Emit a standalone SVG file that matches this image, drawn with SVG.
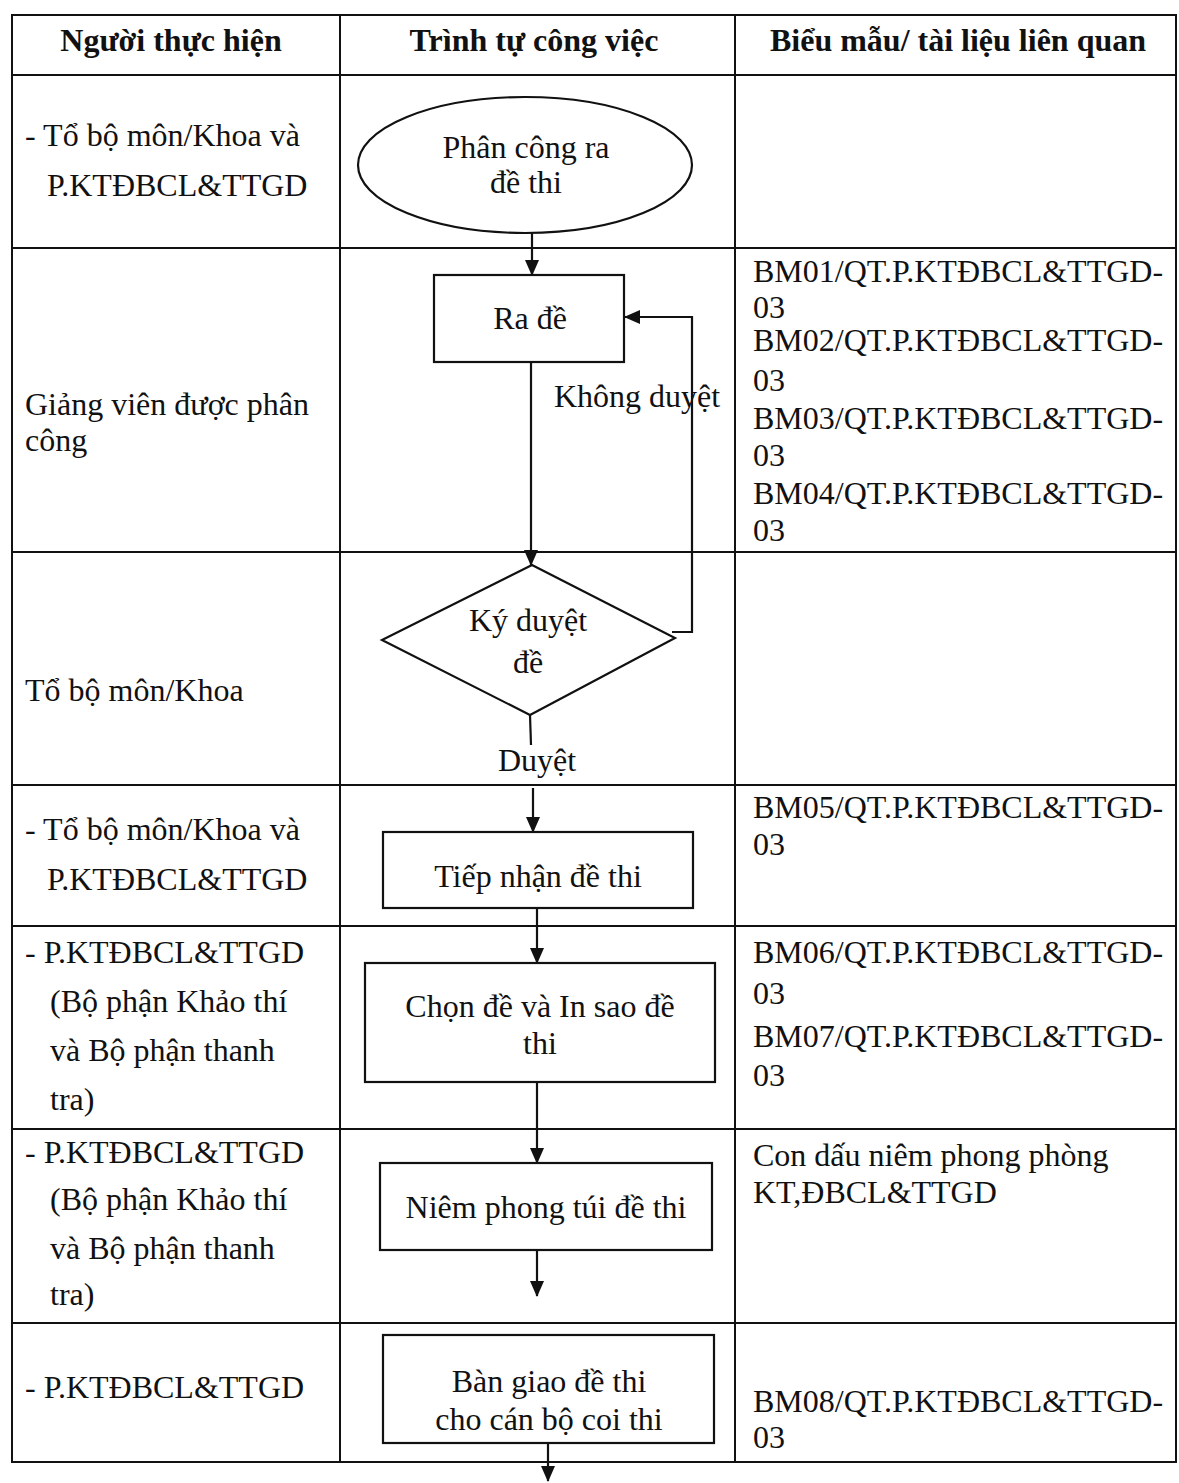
<svg xmlns="http://www.w3.org/2000/svg" width="1179" height="1483" viewBox="0 0 1179 1483">
<style>
  text { font-family: "Liberation Serif", "Times New Roman", serif; font-size: 32px; fill: #111; }
  .h { font-weight: bold; text-anchor: middle; }
  .c { text-anchor: middle; }
  .grid { stroke: #111; stroke-width: 2; fill: none; }
  .shape { stroke: #111; stroke-width: 2.2; fill: #fff; }
  .conn { stroke: #111; stroke-width: 2.2; fill: none; }
</style>
<defs>
  <marker id="arr" markerUnits="userSpaceOnUse" markerWidth="16" markerHeight="16" refX="15" refY="8" orient="auto">
    <path d="M0,1 L16,8 L0,15 Z" fill="#111"/>
  </marker>
</defs>
<rect width="1179" height="1483" fill="#fff"/>

<g id="table">
  <rect class="grid" x="12" y="15" width="1164" height="1447"/>
  <line class="grid" x1="340" y1="15" x2="340" y2="1462"/>
  <line class="grid" x1="735" y1="15" x2="735" y2="1462"/>
  <line class="grid" x1="12" y1="75" x2="1176" y2="75"/>
  <line class="grid" x1="12" y1="248" x2="1176" y2="248"/>
  <line class="grid" x1="12" y1="552" x2="1176" y2="552"/>
  <line class="grid" x1="12" y1="785" x2="1176" y2="785"/>
  <line class="grid" x1="12" y1="926" x2="1176" y2="926"/>
  <line class="grid" x1="12" y1="1129" x2="1176" y2="1129"/>
  <line class="grid" x1="12" y1="1323" x2="1176" y2="1323"/>
  <text class="h" x="171" y="51">Người thực hiện</text>
  <text class="h" x="534" y="51">Trình tự công việc</text>
  <text class="h" x="958" y="51">Biểu mẫu/ tài liệu liên quan</text>
</g>

<g id="actors">
  <text x="25" y="146">- Tổ bộ môn/Khoa và</text>
  <text x="47" y="196">P.KTĐBCL&amp;TTGD</text>
  <text x="25" y="415">Giảng viên được phân</text>
  <text x="25" y="451">công</text>
  <text x="25" y="701">Tổ bộ môn/Khoa</text>
  <text x="25" y="840">- Tổ bộ môn/Khoa và</text>
  <text x="47" y="890">P.KTĐBCL&amp;TTGD</text>
  <text x="25" y="963">- P.KTĐBCL&amp;TTGD</text>
  <text x="50" y="1012">(Bộ phận Khảo thí</text>
  <text x="50" y="1061">và Bộ phận thanh</text>
  <text x="50" y="1110">tra)</text>
  <text x="25" y="1163">- P.KTĐBCL&amp;TTGD</text>
  <text x="50" y="1210">(Bộ phận Khảo thí</text>
  <text x="50" y="1259">và Bộ phận thanh</text>
  <text x="50" y="1305">tra)</text>
  <text x="25" y="1398">- P.KTĐBCL&amp;TTGD</text>
</g>

<g id="forms">
  <text x="753" y="282">BM01/QT.P.KTĐBCL&amp;TTGD-</text>
  <text x="753" y="318">03</text>
  <text x="753" y="351">BM02/QT.P.KTĐBCL&amp;TTGD-</text>
  <text x="753" y="391">03</text>
  <text x="753" y="429">BM03/QT.P.KTĐBCL&amp;TTGD-</text>
  <text x="753" y="466">03</text>
  <text x="753" y="504">BM04/QT.P.KTĐBCL&amp;TTGD-</text>
  <text x="753" y="541">03</text>
  <text x="753" y="818">BM05/QT.P.KTĐBCL&amp;TTGD-</text>
  <text x="753" y="855">03</text>
  <text x="753" y="963">BM06/QT.P.KTĐBCL&amp;TTGD-</text>
  <text x="753" y="1004">03</text>
  <text x="753" y="1047">BM07/QT.P.KTĐBCL&amp;TTGD-</text>
  <text x="753" y="1086">03</text>
  <text x="753" y="1166">Con dấu niêm phong phòng</text>
  <text x="753" y="1203">KT,ĐBCL&amp;TTGD</text>
  <text x="753" y="1412">BM08/QT.P.KTĐBCL&amp;TTGD-</text>
  <text x="753" y="1448">03</text>
</g>

<g id="connectors">
  <line class="conn" x1="532" y1="233" x2="532" y2="275" marker-end="url(#arr)"/>
  <line class="conn" x1="531" y1="362" x2="531" y2="565" marker-end="url(#arr)"/>
  <polyline class="conn" points="672,632 692,632 692,317 625,317" marker-end="url(#arr)"/>
  <text class="c" x="637" y="407">Không duyệt</text>
  <line class="conn" x1="530" y1="715" x2="531" y2="745"/>
  <text class="c" x="537" y="771">Duyệt</text>
  <line class="conn" x1="533" y1="788" x2="533" y2="832" marker-end="url(#arr)"/>
  <line class="conn" x1="537" y1="908" x2="537" y2="963" marker-end="url(#arr)"/>
  <line class="conn" x1="537" y1="1082" x2="537" y2="1163" marker-end="url(#arr)"/>
  <line class="conn" x1="537" y1="1250" x2="537" y2="1296" marker-end="url(#arr)"/>
  <line class="conn" x1="548" y1="1443" x2="548" y2="1481" marker-end="url(#arr)"/>
</g>

<g id="n-start">
  <ellipse class="shape" cx="525" cy="165" rx="167" ry="68"/>
  <text class="c" x="526" y="158">Phân công ra</text>
  <text class="c" x="526" y="193">đề thi</text>
</g>
<g id="n-rade">
  <rect class="shape" x="434" y="275" width="190" height="87"/>
  <text class="c" x="530" y="329">Ra đề</text>
</g>
<g id="n-kyduyet">
  <polygon class="shape" points="532,565 675,638 530,715 382,640"/>
  <text class="c" x="528" y="631">Ký duyệt</text>
  <text class="c" x="528" y="673">đề</text>
</g>
<g id="n-tiepnhan">
  <rect class="shape" x="383" y="832" width="310" height="76"/>
  <text class="c" x="538" y="887">Tiếp nhận đề thi</text>
</g>
<g id="n-chonde">
  <rect class="shape" x="365" y="963" width="350" height="119"/>
  <text class="c" x="540" y="1017">Chọn đề và In sao đề</text>
  <text class="c" x="540" y="1054">thi</text>
</g>
<g id="n-niemphong">
  <rect class="shape" x="380" y="1163" width="332" height="87"/>
  <text class="c" x="546" y="1218">Niêm phong túi đề thi</text>
</g>
<g id="n-bangiao">
  <rect class="shape" x="383" y="1335" width="331" height="108"/>
  <text class="c" x="549" y="1392">Bàn giao đề thi</text>
  <text class="c" x="549" y="1430">cho cán bộ coi thi</text>
</g>
</svg>
